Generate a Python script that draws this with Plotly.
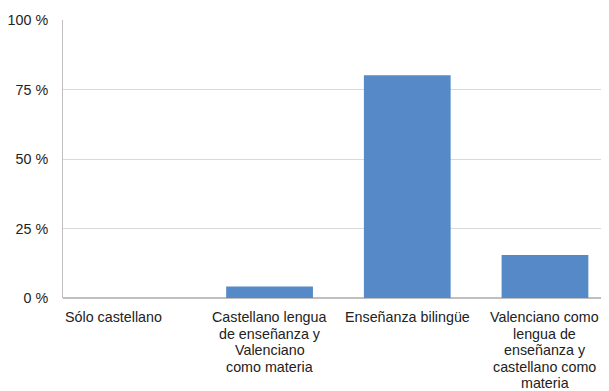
import plotly.graph_objects as go

categories = ["Sólo castellano",
              "Castellano lengua<br>de enseñanza y<br>Valenciano<br>como materia",
              "Enseñanza bilingüe",
              "Valenciano como<br>lengua de<br>enseñanza y<br>castellano como<br>materia"]
values = [0, 4.1, 80.1, 15.5]
y_ticks = [0, 25, 50, 75, 100]
y_tick_labels = ["0 %", "25 %", "50 %", "75 %", "100 %"]

FONT = "Liberation Sans, Arial, sans-serif"
x_pos = list(range(len(categories)))

fig = go.Figure(go.Bar(
    x=x_pos, y=values,
    marker=dict(color="#5689C8", line=dict(width=0)),
    width=0.63,
))

# category labels, one annotation per line for tighter line spacing
annotations = []
for xi, label in zip(x_pos, categories):
    for li, line in enumerate(label.split("<br>")):
        if xi == 0:
            ax, anchor = xi - 0.5, "left"
        else:
            ax, anchor = xi, "center"
        annotations.append(dict(
            x=ax, y=0, xref="x", yref="y", text=line, showarrow=False,
            xanchor=anchor, yanchor="top", yshift=-(9 + li * 16.5),
            font=dict(family=FONT, size=14.3, color="#222222"),
        ))

fig.update_layout(
    width=601, height=383,
    margin=dict(l=55, r=0, t=12, b=93),
    plot_bgcolor="white", paper_bgcolor="white",
    font=dict(family=FONT, size=14, color="#222222"),
    showlegend=False,
    annotations=annotations,
)
fig.update_xaxes(
    tickmode="array", tickvals=x_pos, showticklabels=False,
    range=[-0.5, 3.465], showgrid=False, ticks="",
    showline=False, zeroline=False, automargin=False,
)
fig.update_yaxes(
    range=[0, 100], tickmode="array", tickvals=y_ticks, ticktext=y_tick_labels,
    showgrid=True, gridcolor="#D9D9D9", gridwidth=1,
    showline=True, linecolor="#BFBFBF", linewidth=1,
    zeroline=True, zerolinecolor="#BFBFBF", zerolinewidth=1.5,
    ticks="", ticklabelstandoff=11, automargin=False,
    tickfont=dict(size=14.3),
)
fig.write_html("out.html")
